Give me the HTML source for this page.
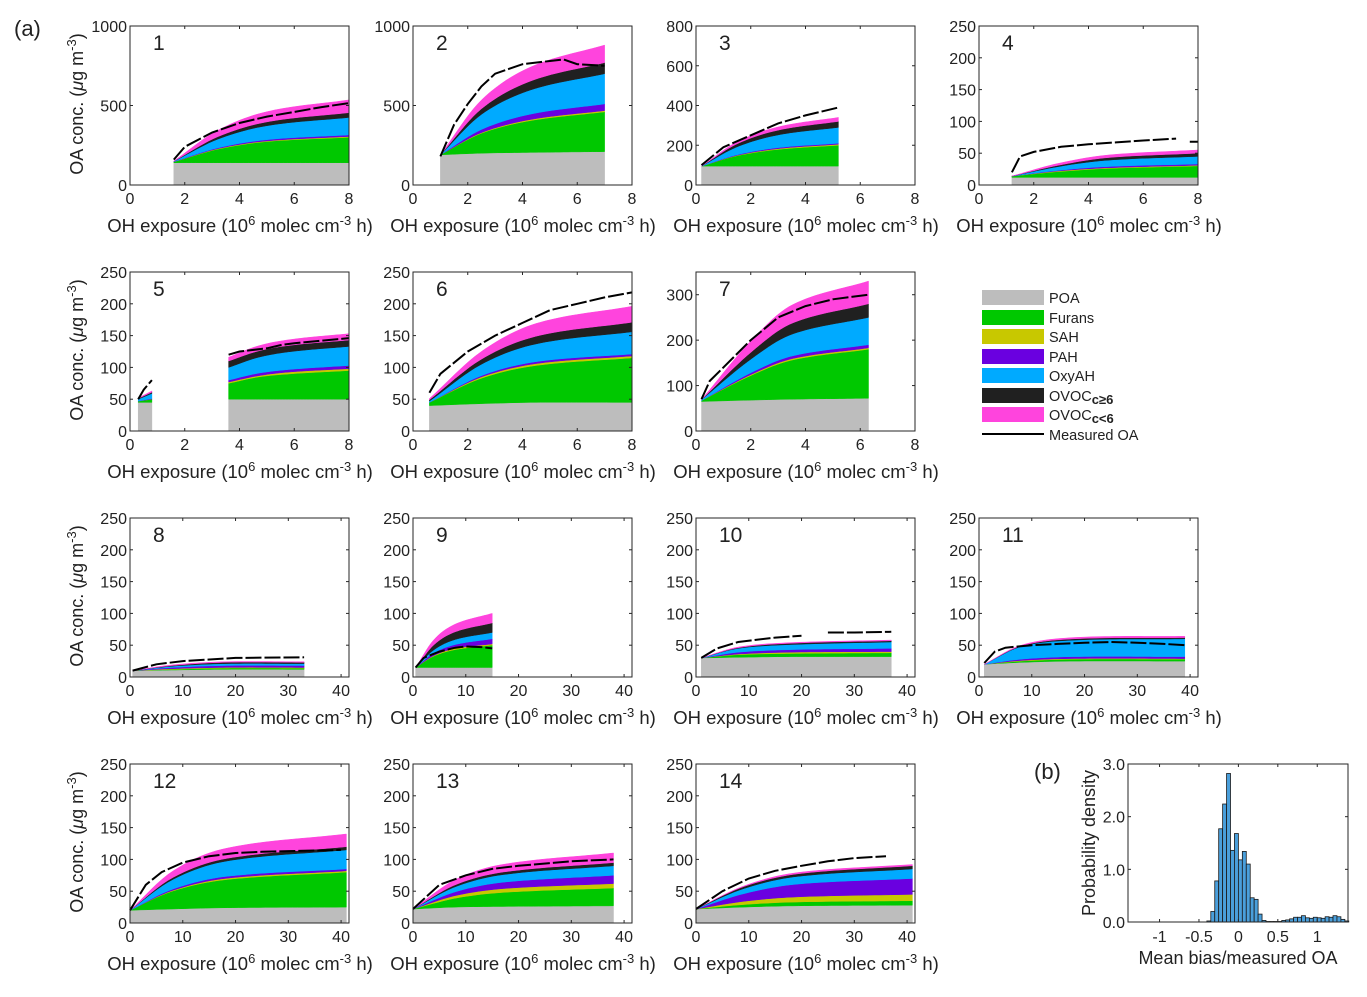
<!DOCTYPE html>
<html><head><meta charset="utf-8">
<style>
body{margin:0;background:#fff;}
svg text{font-family:"Liberation Sans",Arial,sans-serif;fill:#222;}
</style></head>
<body>
<svg id="fig" width="1367" height="992" viewBox="0 0 1367 992" xmlns="http://www.w3.org/2000/svg">
<text x="14" y="36" font-size="22">(a)</text>
<text x="1034" y="779" font-size="22">(b)</text>
<g id="legend"></g>
</svg>
<script>
// ---- component names / colors ----
const compNames = ["POA","Furans","SAH","PAH","OxyAH","OVOCc≥6","OVOCc<6"];
const compColors = ["#bdbdbd","#00c800","#c8c800","#6a00e0","#00aaff","#202020","#ff44dd"];

// ---- panel data: x points, layer values (POA, Furans, SAH, PAH, OxyAH, OVOC>=6, OVOC<6), measured OA ----
const P1_x=[1.6,3.2,5.0,8];
const P1_layers=[[140,140,140,140],[5,85,133,160],[1,3,4,5],[1,5,8,10],[2,55,88,110],[1,15,24,30],[1,40,64,80]];
const P1_mx=[1.6,2,3,4,5,6,7,8]; const P1_my=[160,240,330,390,430,460,490,515];

const P2_x=[1,2.5,4.3,7];
const P2_layers=[[190,200,205,210],[0,125,200,250],[0,4,7,8],[0,20,34,42],[0,95,152,190],[0,35,56,70],[0,55,88,110]];
const P2_mx=[1,1.5,2,2.5,3,4,5,5.5,6,7]; const P2_my=[180,380,510,620,700,760,780,790,760,750];

const P3_x=[0.2,1.5,3,5.2];
const P3_layers=[[95,95,95,95],[0,52,84,105],[0,2,4,5],[0,3,5,5],[0,40,64,80],[0,15,24,30],[0,10,16,20]];
const P3_mx=[0.2,1,2,3,4,5.2]; const P3_my=[100,190,250,310,350,390];

const P4_x=[1.2,2.9,4.7,8];
const P4_layers=[[12,12,12,12],[2,9,14,18],[0,1,1,1],[0,1,2,2],[0,6,10,12],[0,2,4,5],[0,3,4,5]];
const P4_mx=[1.2,1.5,2,3,4,5,6,7.2,7.25,7.7,8]; const P4_my=[20,45,52,60,64,67,70,73,null,68,68];

const P5a_x=[0.3,0.8];
const P5a_layers=[[45,45],[2,5],[0,0],[0,1],[3,8],[1,2],[1,2]];
const P5_x=[3.6,4.7,5.9,8];
const P5_layers=[[50,50,50,50],[25,35,40,45],[2,2,3,3],[3,4,4,5],[20,25,28,30],[10,10,10,10],[6,8,9,10]];
const P5_mx=[0.3,0.5,0.8,0.85,3.6,4,5,5.5,6,7,8]; const P5_my=[50,65,80,null,120,125,130,135,138,142,146];

const P6_x=[0.6,2.5,4.5,8];
const P6_layers=[[40,43,45,45],[5,40,58,70],[0,2,3,3],[0,2,3,3],[2,18,28,35],[2,8,12,15],[2,12,20,25]];
const P6_mx=[0.6,1,2,3,4,5,6,7,8]; const P6_my=[60,90,125,150,170,190,200,210,218];

const P7_x=[0.2,2,3.5,6.3];
const P7_layers=[[65,68,70,72],[2,54,86,108],[0,2,3,3],[0,4,6,7],[2,30,48,60],[0,15,24,30],[0,25,40,50]];
const P7_mx=[0.2,0.5,1,2,3,4,5,6.3]; const P7_my=[70,110,140,200,250,275,290,300];

const P8_x=[0.5,8,18,33];
const P8_layers=[[10,11,12,12],[0,1,2,2],[0,1,1,1],[0,2,3,3],[0,2,3,3],[0,1,2,2],[0,1,1,1]];
const P8_mx=[0.5,5,10,20,33]; const P8_my=[10,20,25,30,31];

const P9_x=[0.5,4,8,15];
const P9_layers=[[15,15,15,15],[0,18,28,35],[0,1,2,2],[0,4,6,8],[0,5,8,10],[0,8,12,15],[0,8,12,15]];
const P9_mx=[0.5,2,5,8,10,13,15]; const P9_my=[15,30,40,46,48,47,45];

const P10_x=[1,8,18,37];
const P10_layers=[[30,31,32,32],[0,4,5,6],[0,1,2,2],[0,3,4,5],[0,6,8,10],[0,1,2,2],[0,1,1,1]];
const P10_mx=[1,4,8,15,20,20.5,25,30,37]; const P10_my=[30,45,55,62,65,null,70,70,71];

const P11_x=[1,8,18,39];
const P11_layers=[[20,23,25,25],[0,2,3,3],[0,1,1,1],[0,2,3,3],[0,20,26,28],[0,1,2,2],[0,1,2,2]];
const P11_mx=[1,3,5,10,15,20,25,30,35,39]; const P11_my=[22,40,46,50,52,54,55,54,52,50];

const P12_x=[0,8,18,41];
const P12_layers=[[20,22,24,25],[0,28,44,55],[0,1,2,2],[0,2,3,3],[0,15,24,30],[0,3,4,5],[0,10,16,20]];
const P12_mx=[0,3,6,10,15,20,25,30,40]; const P12_my=[20,60,80,95,105,110,112,113,115];

const P13_x=[0,8,17,38];
const P13_layers=[[22,25,26,27],[0,14,22,28],[0,4,6,7],[0,6,10,13],[0,8,12,15],[0,3,4,5],[0,8,12,15]];
const P13_mx=[0,5,10,15,20,30,38]; const P13_my=[22,60,75,85,90,97,100];

const P14_x=[0,9,19,41];
const P14_layers=[[22,25,27,28],[0,4,6,7],[0,5,8,10],[0,12,20,25],[0,8,12,15],[0,3,4,5],[0,1,2,2]];
const P14_mx=[0,5,10,15,20,25,30,36]; const P14_my=[22,50,70,82,90,97,102,105];

// ---- axis tick arrays ----
const xTicksShort=[0,2,4,6,8];
const xTicksLong=[0,10,20,30,40];
const yTicks250=[0,50,100,150,200,250];
const yTicks1000=[0,500,1000];
const yTicks800=[0,200,400,600,800];
const yTicks350=[0,100,200,300];

// ---- histogram data (b) ----
const histBinStart=[-0.40,-0.35,-0.30,-0.25,-0.20,-0.15,-0.10,-0.05,0.00,0.05,0.10,0.15,0.20,0.25,0.30,0.35,0.40,0.45,0.50,0.55,0.60,0.65,0.70,0.75,0.80,0.85,0.90,0.95,1.00,1.05,1.10,1.15,1.20,1.25,1.30,1.35];
const histDensity=[0.02,0.2,0.78,1.77,2.24,2.82,1.36,1.68,1.18,1.34,1.10,0.46,0.43,0.15,0.03,0.01,0.01,0.01,0.01,0.03,0.04,0.06,0.09,0.09,0.12,0.08,0.07,0.09,0.08,0.07,0.1,0.09,0.12,0.1,0.05,0.02];
const histXTicks=[-1,-0.5,0,0.5,1];
const histXTickLabels=["-1","-0.5","0","0.5","1"];
const histYTicks=[0,1,2,3];
const histYTickLabels=["0.0","1.0","2.0","3.0"];

const NS="http://www.w3.org/2000/svg";
const fig=document.getElementById('fig');
function mk(tag,attrs,parent){const e=document.createElementNS(NS,tag);for(const k in attrs)e.setAttribute(k,attrs[k]);(parent||fig).appendChild(e);return e;}

const colL=[130,413,696,979], rowT=[26,272,518,764], W=219, H=159;
const panels=[
 {n:1,c:0,r:0,xmax:8,ymax:1000,xt:xTicksShort,yt:yTicks1000,segs:[[P1_x,P1_layers]],mx:P1_mx,my:P1_my},
 {n:2,c:1,r:0,xmax:8,ymax:1000,xt:xTicksShort,yt:yTicks1000,segs:[[P2_x,P2_layers]],mx:P2_mx,my:P2_my},
 {n:3,c:2,r:0,xmax:8,ymax:800,xt:xTicksShort,yt:yTicks800,segs:[[P3_x,P3_layers]],mx:P3_mx,my:P3_my},
 {n:4,c:3,r:0,xmax:8,ymax:250,xt:xTicksShort,yt:yTicks250,segs:[[P4_x,P4_layers]],mx:P4_mx,my:P4_my},
 {n:5,c:0,r:1,xmax:8,ymax:250,xt:xTicksShort,yt:yTicks250,segs:[[P5a_x,P5a_layers],[P5_x,P5_layers]],mx:P5_mx,my:P5_my},
 {n:6,c:1,r:1,xmax:8,ymax:250,xt:xTicksShort,yt:yTicks250,segs:[[P6_x,P6_layers]],mx:P6_mx,my:P6_my},
 {n:7,c:2,r:1,xmax:8,ymax:350,xt:xTicksShort,yt:yTicks350,segs:[[P7_x,P7_layers]],mx:P7_mx,my:P7_my},
 {n:8,c:0,r:2,xmax:41.5,ymax:250,xt:xTicksLong,yt:yTicks250,segs:[[P8_x,P8_layers]],mx:P8_mx,my:P8_my},
 {n:9,c:1,r:2,xmax:41.5,ymax:250,xt:xTicksLong,yt:yTicks250,segs:[[P9_x,P9_layers]],mx:P9_mx,my:P9_my},
 {n:10,c:2,r:2,xmax:41.5,ymax:250,xt:xTicksLong,yt:yTicks250,segs:[[P10_x,P10_layers]],mx:P10_mx,my:P10_my},
 {n:11,c:3,r:2,xmax:41.5,ymax:250,xt:xTicksLong,yt:yTicks250,segs:[[P11_x,P11_layers]],mx:P11_mx,my:P11_my},
 {n:12,c:0,r:3,xmax:41.5,ymax:250,xt:xTicksLong,yt:yTicks250,segs:[[P12_x,P12_layers]],mx:P12_mx,my:P12_my},
 {n:13,c:1,r:3,xmax:41.5,ymax:250,xt:xTicksLong,yt:yTicks250,segs:[[P13_x,P13_layers]],mx:P13_mx,my:P13_my},
 {n:14,c:2,r:3,xmax:41.5,ymax:250,xt:xTicksLong,yt:yTicks250,segs:[[P14_x,P14_layers]],mx:P14_mx,my:P14_my}
];

function sample(xs,ys,t){
  let i=0;while(i<xs.length-2&&t>xs[i+1])i++;
  const x0=xs[i],x1=xs[i+1];const u=(t-x0)/(x1-x0);
  const y0=ys[i],y1=ys[i+1];
  const m0=i>0?(ys[i+1]-ys[i-1])/(xs[i+1]-xs[i-1]):(y1-y0)/(x1-x0);
  const m1=i+2<xs.length?(ys[i+2]-ys[i])/(xs[i+2]-xs[i]):(y1-y0)/(x1-x0);
  const h=x1-x0,u2=u*u,u3=u2*u;
  return (2*u3-3*u2+1)*y0+(u3-2*u2+u)*h*m0+(-2*u3+3*u2)*y1+(u3-u2)*h*m1;
}

panels.forEach(p=>{
  const L=colL[p.c],T=rowT[p.r];
  const g=mk('g',{});
  
  
  const sx=v=>L+v/p.xmax*W, sy=v=>T+H-v/p.ymax*H;
  mk('rect',{x:L,y:T,width:W,height:H,fill:'#fff'},g);
  p.segs.forEach((s,si)=>{
    const xs=s[0],layers=s[1];
    const N=40;const ts=[];for(let k=0;k<=N;k++)ts.push(xs[0]+(xs[xs.length-1]-xs[0])*k/N);
    let base=ts.map(()=>0);
    layers.forEach((lay,li)=>{
      const top=ts.map((t,k)=>base[k]+sample(xs,lay,t));
      let d='M'+ts.map((t,k)=>sx(t).toFixed(1)+','+sy(top[k]).toFixed(1)).join('L');
      for(let k=ts.length-1;k>=0;k--)d+='L'+sx(ts[k]).toFixed(1)+','+sy(base[k]).toFixed(1);
      const a=mk('path',{d:d+'Z',fill:compColors[li],stroke:compColors[li],'stroke-width':0.5},g);
      
      
      base=top;
    });
  });
  let d='',pen=false;
  p.mx.forEach((x,i)=>{const y=p.my[i];if(y===null){pen=false;return;}d+=(pen?'L':'M')+sx(x).toFixed(1)+','+sy(y).toFixed(1);pen=true;});
  const ml=mk('path',{d:d,fill:'none',stroke:'#000','stroke-width':2,'stroke-dasharray':'16,3'},g);
  
  
  mk('rect',{x:L,y:T,width:W,height:H,fill:'none',stroke:'#262626','stroke-width':1},g);
  p.xt.forEach(v=>{const x=sx(v);mk('line',{x1:x,x2:x,y1:T+H,y2:T+H-3,stroke:'#262626'},g);mk('line',{x1:x,x2:x,y1:T,y2:T+3,stroke:'#262626'},g);
    const t=mk('text',{x:x,y:T+H+19,'font-size':16,'text-anchor':'middle'},g);t.textContent=v;
    });
  p.yt.forEach(v=>{const y=sy(v);mk('line',{x1:L,x2:L+3,y1:y,y2:y,stroke:'#262626'},g);mk('line',{x1:L+W,x2:L+W-3,y1:y,y2:y,stroke:'#262626'},g);
    const t=mk('text',{x:L-3,y:y+6,'font-size':16,'text-anchor':'end'},g);t.textContent=v;
    });
  const nt=mk('text',{x:L+23,y:T+24,'font-size':21},g);nt.textContent=p.n;
  
  const xl=mk('text',{x:L+110,y:T+H+47,'font-size':18.5,'text-anchor':'middle'},g);
  xl.innerHTML='OH exposure (10<tspan dy="-7" font-size="13">6</tspan><tspan dy="7"> molec cm</tspan><tspan dy="-7" font-size="13">-3</tspan><tspan dy="7"> h)</tspan>';
  
  if(p.c===0){
    const yl=mk('text',{transform:`translate(${L-47},${T+78}) rotate(-90)`,'font-size':18,'text-anchor':'middle'},g);
    yl.innerHTML='OA conc. (<tspan font-style="italic">μ</tspan>g m<tspan dy="-7" font-size="13">-3</tspan><tspan dy="7">)</tspan>';
    
  }
});

const lg=document.getElementById('legend');
const legY=[290,310,329,349,368,388,407];
compNames.forEach((nm,i)=>{
  const r=mk('rect',{x:982,y:legY[i],width:62,height:15,fill:compColors[i]},lg);
  
  const t=mk('text',{x:1049,y:legY[i]+13,'font-size':14.5},lg);
  if(i>=5){t.innerHTML='OVOC<tspan font-weight="bold" font-size="13" dy="3">'+(i===5?'c≥6':'c&lt;6')+'</tspan>';}
  else t.textContent=nm;
  
});
mk('line',{x1:982,x2:1044,y1:434,y2:434,stroke:'#000','stroke-width':2},lg);
const mt=mk('text',{x:1049,y:440,'font-size':14.5},lg);mt.textContent='Measured OA';


(function(){
  const L=1128,T=764,W2=220,H2=158,xmin=-1.4,xmax=1.39,ymax=3;
  const g=mk('g',{});
  
  
  const sx=v=>L+(v-xmin)/(xmax-xmin)*W2, sy=v=>T+H2-v/ymax*H2;
  const bw=0.05;
  histBinStart.forEach((b,i)=>{
    const x=sx(b),y=sy(histDensity[i]);
    const r=mk('rect',{x:x,y:y,width:sx(b+bw)-x,height:T+H2-y,fill:'#4a9fdb',stroke:'#1a1a1a','stroke-width':0.8},g);
    
  });
  mk('rect',{x:L,y:T,width:W2,height:H2,fill:'none',stroke:'#262626'},g);
  histXTicks.forEach((v,i)=>{const x=sx(v);mk('line',{x1:x,x2:x,y1:T+H2,y2:T+H2-3,stroke:'#262626'},g);mk('line',{x1:x,x2:x,y1:T,y2:T+3,stroke:'#262626'},g);
    const t=mk('text',{x:x,y:T+H2+20,'font-size':16,'text-anchor':'middle'},g);t.textContent=histXTickLabels[i];
    });
  histYTicks.forEach((v,i)=>{const y=sy(v);mk('line',{x1:L,x2:L+3,y1:y,y2:y,stroke:'#262626'},g);mk('line',{x1:L+W2,x2:L+W2-3,y1:y,y2:y,stroke:'#262626'},g);
    const t=mk('text',{x:L-3,y:y+6,'font-size':16,'text-anchor':'end'},g);t.textContent=histYTickLabels[i];
    });
  const xl=mk('text',{x:1238,y:964,'font-size':18,'text-anchor':'middle'},g);xl.textContent='Mean bias/measured OA';
  
  const yl=mk('text',{transform:'translate(1095,843) rotate(-90)','font-size':18,'text-anchor':'middle'},g);yl.textContent='Probability density';
  
})();
</script>
</body></html>
